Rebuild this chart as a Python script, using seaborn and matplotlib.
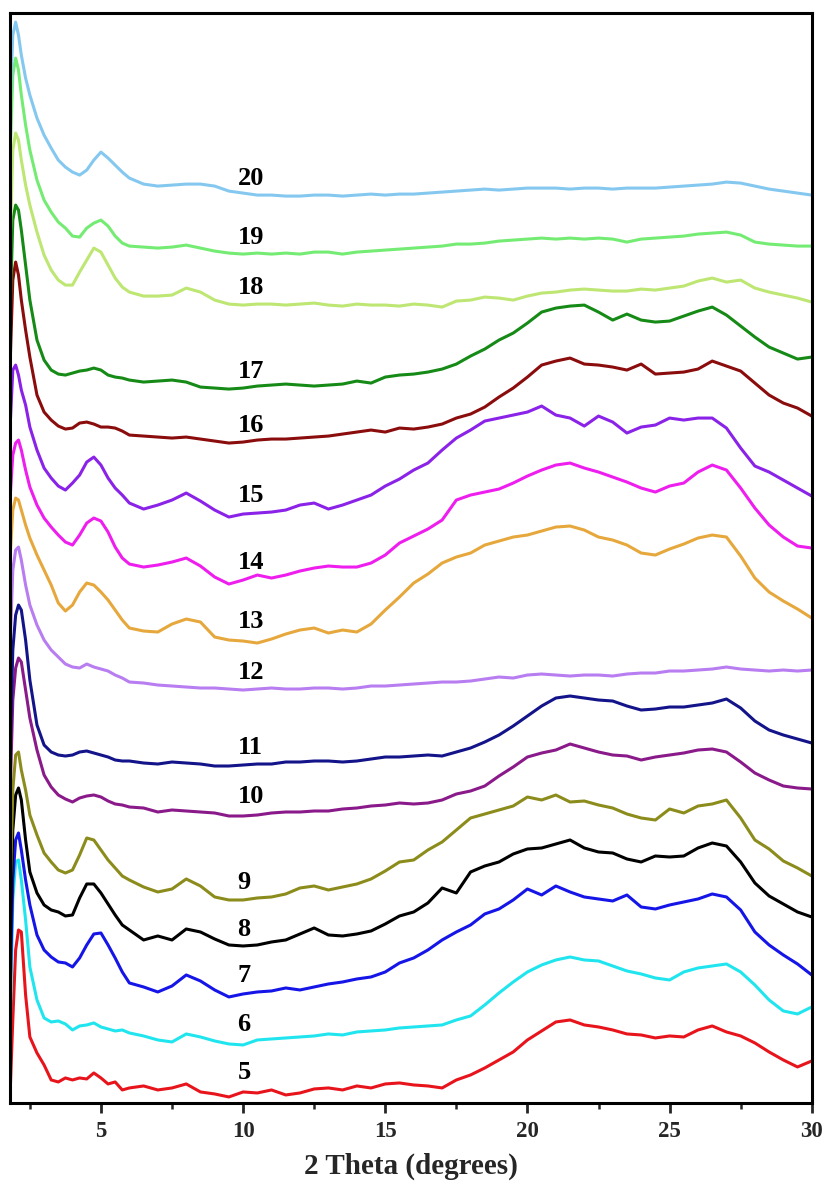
import numpy as np
import pandas as pd
import matplotlib
matplotlib.use("Agg")
import matplotlib.pyplot as plt
from matplotlib.ticker import MultipleLocator
import seaborn as sns

# ---- data: stacked XRD patterns (offset intensities, a.u.) ----
two_theta = [1.8, 1.9, 2.0, 2.1, 2.2, 2.35, 2.5, 2.75, 3.0, 3.25,
             3.5, 3.75, 4.0, 4.25, 4.5, 4.75, 5.0, 5.25, 5.5, 5.75,
             6.0, 6.5, 7.0, 7.5, 8.0, 8.5, 9.0, 9.5, 10.0, 10.5,
             11.0, 11.5, 12.0, 12.5, 13.0, 13.5, 14.0, 14.5, 15.0, 15.5,
             16.0, 16.5, 17.0, 17.5, 18.0, 18.5, 19.0, 19.5, 20.0, 20.5,
             21.0, 21.5, 22.0, 22.5, 23.0, 23.5, 24.0, 24.5, 25.0, 25.5,
             26.0, 26.5, 27.0, 27.5, 28.0, 28.5, 29.0, 29.5, 30.0]

i05 = [2, 80, 150, 170, 168, 105, 63, 47, 35, 20,
       18, 22, 20, 22, 21, 27, 22, 16, 18, 10,
       12, 14, 10, 12, 16, 8, 6, 3, 8, 7,
       10, 5, 7, 11, 12, 10, 14, 12, 16, 17,
       15, 14, 12, 20, 25, 32, 40, 48, 60, 69,
       78, 80, 75, 73, 70, 66, 65, 62, 64, 63,
       70, 74, 68, 64, 57, 48, 40, 33, 39]
i06 = [60, 200, 238, 240, 220, 180, 133, 100, 82, 78,
       79, 76, 70, 74, 75, 77, 73, 71, 69, 70,
       67, 64, 60, 58, 66, 63, 59, 56, 55, 60,
       61, 62, 63, 64, 66, 65, 68, 69, 70, 72,
       73, 74, 75, 80, 84, 95, 107, 118, 128, 135,
       140, 143, 140, 139, 134, 129, 126, 122, 120, 128,
       132, 134, 136, 128, 115, 100, 89, 86, 93]
i07 = [100, 220, 260, 267, 250, 220, 195, 165, 150, 143,
       138, 137, 133, 142, 155, 166, 167, 155, 142, 128,
       117, 113, 108, 114, 125, 119, 110, 103, 106, 108,
       109, 112, 110, 113, 116, 118, 121, 123, 128, 137,
       142, 150, 160, 168, 175, 186, 191, 200, 211, 205,
       214, 208, 203, 201, 199, 205, 193, 191, 195, 198,
       201, 206, 203, 190, 168, 155, 145, 136, 125]
i08 = [140, 270, 305, 312, 300, 260, 228, 207, 195, 190,
       188, 184, 185, 202, 216, 216, 207, 196, 185, 175,
       170, 160, 164, 160, 171, 168, 161, 155, 154, 155,
       158, 160, 166, 172, 165, 164, 166, 169, 176, 184,
       188, 197, 212, 207, 228, 234, 238, 246, 251, 252,
       256, 260, 252, 248, 247, 241, 238, 244, 243, 244,
       252, 257, 254, 238, 217, 204, 196, 188, 183]
i09 = [200, 310, 345, 348, 330, 310, 285, 265, 247, 238,
       230, 227, 230, 245, 262, 260, 250, 240, 232, 224,
       220, 213, 208, 211, 221, 214, 203, 200, 200, 202,
       203, 206, 212, 214, 210, 213, 216, 221, 229, 238,
       240, 250, 258, 270, 282, 286, 290, 294, 303, 300,
       305, 298, 299, 295, 292, 286, 282, 280, 291, 287,
       294, 296, 300, 282, 260, 251, 239, 232, 224]
i10 = [300, 400, 432, 442, 438, 410, 382, 350, 325, 313,
       305, 301, 298, 302, 304, 305, 303, 299, 296, 295,
       293, 292, 288, 290, 289, 288, 287, 284, 284, 285,
       287, 288, 288, 289, 289, 291, 292, 294, 295, 297,
       296, 297, 300, 306, 309, 314, 324, 333, 343, 347,
       350, 356, 352, 348, 345, 344, 340, 343, 345, 347,
       350, 351, 348, 338, 327, 320, 314, 312, 311]
i11 = [340, 450, 485, 495, 490, 460, 420, 375, 355, 348,
       345, 344, 345, 348, 349, 347, 345, 343, 340, 339,
       339, 337, 336, 338, 337, 336, 334, 334, 335, 336,
       336, 338, 338, 339, 339, 338, 339, 341, 343, 343,
       344, 345, 344, 348, 352, 358, 365, 374, 384, 394,
       402, 404, 402, 400, 399, 394, 390, 391, 393, 393,
       395, 397, 401, 392, 379, 370, 365, 361, 357]
i12 = [450, 530, 550, 553, 540, 515, 495, 475, 460, 450,
       443, 436, 433, 432, 436, 433, 431, 429, 425, 422,
       418, 417, 415, 414, 413, 412, 412, 411, 410, 411,
       412, 411, 411, 412, 412, 411, 412, 414, 414, 415,
       416, 417, 418, 418, 419, 421, 423, 422, 425, 426,
       425, 424, 425, 425, 424, 426, 427, 427, 429, 429,
       430, 431, 433, 431, 430, 429, 430, 429, 430]
i13 = [540, 590, 602, 600, 590, 575, 562, 545, 530, 515,
       497, 489, 495, 508, 517, 515, 508, 500, 490, 480,
       472, 469, 468, 476, 481, 478, 463, 460, 459, 457,
       461, 466, 470, 472, 467, 470, 468, 476, 490, 503,
       517, 526, 537, 543, 547, 555, 559, 563, 565, 569,
       573, 574, 570, 563, 560, 555, 547, 545, 551, 556,
       562, 565, 563, 544, 522, 508, 499, 491, 482]
i14 = [600, 645, 657, 660, 650, 630, 613, 595, 582, 573,
       565, 558, 555, 565, 577, 582, 579, 568, 553, 542,
       536, 533, 535, 538, 542, 534, 523, 516, 520, 525,
       522, 525, 529, 532, 534, 533, 533, 537, 545, 557,
       564, 571, 580, 600, 605, 608, 611, 617, 624, 630,
       635, 637, 632, 628, 623, 618, 612, 608, 614, 617,
       628, 635, 630, 612, 592, 575, 563, 554, 552]
i15 = [670, 730, 735, 725, 710, 695, 673, 650, 632, 622,
       614, 610, 617, 625, 638, 643, 635, 622, 612, 605,
       597, 591, 595, 600, 607, 599, 590, 583, 586, 587,
       588, 590, 595, 597, 591, 595, 600, 605, 614, 621,
       630, 637, 650, 662, 670, 679, 682, 685, 688, 694,
       685, 682, 674, 684, 678, 667, 673, 675, 682, 680,
       682, 682, 672, 652, 634, 628, 620, 612, 604]
i16 = [730, 820, 838, 825, 800, 770, 743, 705, 688, 680,
       674, 671, 672, 677, 678, 676, 673, 673, 672, 669,
       665, 664, 663, 662, 663, 661, 659, 657, 658, 660,
       661, 661, 662, 663, 664, 666, 668, 670, 668, 672,
       671, 673, 676, 682, 686, 693, 703, 712, 723, 735,
       739, 742, 736, 735, 733, 730, 736, 726, 727, 728,
       731, 739, 734, 729, 717, 705, 697, 692, 684]
i17 = [780, 880, 895, 890, 870, 835, 800, 760, 740, 730,
       726, 725, 727, 729, 730, 732, 730, 725, 723, 722,
       720, 718, 719, 720, 718, 713, 712, 711, 712, 714,
       715, 716, 715, 714, 715, 716, 719, 717, 723, 725,
       726, 728, 731, 736, 744, 751, 760, 767, 777, 788,
       792, 794, 795, 788, 780, 786, 780, 778, 779, 784,
       789, 793, 785, 774, 763, 753, 747, 741, 743]
i18 = [850, 950, 967, 960, 940, 915, 895, 868, 845, 830,
       820, 815, 815, 828, 840, 852, 848, 835, 822, 813,
       808, 804, 804, 805, 812, 808, 800, 796, 795, 796,
       796, 795, 796, 797, 795, 794, 796, 795, 795, 794,
       796, 795, 793, 799, 800, 803, 802, 800, 804, 807,
       808, 810, 811, 810, 809, 809, 811, 810, 812, 814,
       819, 822, 818, 820, 812, 808, 805, 802, 798]
i19 = [940, 1025, 1042, 1030, 1005, 975, 950, 920, 900, 888,
       878, 872, 864, 863, 872, 877, 880, 874, 864, 857,
       854, 853, 852, 853, 855, 852, 849, 847, 846, 847,
       846, 847, 846, 848, 848, 846, 848, 849, 850, 851,
       852, 853, 854, 856, 856, 857, 859, 860, 861, 862,
       861, 862, 861, 862, 861, 858, 861, 862, 863, 864,
       866, 867, 868, 865, 858, 856, 855, 854, 854]
i20 = [990, 1065, 1078, 1065, 1045, 1022, 1005, 982, 965, 952,
       940, 933, 928, 925, 930, 940, 948, 942, 935, 928,
       922, 916, 914, 915, 916, 916, 914, 909, 907, 905,
       905, 904, 904, 905, 905, 904, 905, 906, 905, 906,
       906, 907, 908, 909, 910, 911, 910, 911, 912, 912,
       912, 911, 912, 912, 911, 912, 912, 912, 913, 914,
       915, 916, 918, 917, 914, 911, 909, 907, 905]

sample_ids = ["5", "6", "7", "8", "9", "10", "11", "12",
              "13", "14", "15", "16", "17", "18", "19", "20"]
label_heights = [27, 75, 124, 170, 217, 304, 353, 428,
                 479, 538, 605, 675, 729, 813, 863, 922]
line_colors = ["#e8141c", "#20e5ee", "#1515e8", "#000000",
               "#8c8c1c", "#8a1a8a", "#14148a", "#b87df0",
               "#e6a83c", "#ee1eee", "#8a22e8", "#8a0c0c",
               "#168a16", "#bde672", "#74ec74", "#84c8f0"]
x_ticks = [5, 10, 15, 20, 25, 30]

patterns = [i05, i06, i07, i08, i09, i10, i11, i12,
            i13, i14, i15, i16, i17, i18, i19, i20]

frames = []
for sid, vals in zip(sample_ids, patterns):
    frames.append(pd.DataFrame({"two_theta": two_theta,
                                "intensity": vals,
                                "sample": sid}))
df = pd.concat(frames, ignore_index=True)

# ---- style ----
sns.set_theme(style="white")
plt.rcParams["font.family"] = ["Liberation Serif", "DejaVu Serif"]
plt.rcParams["font.weight"] = "bold"

fig = plt.figure(figsize=(8.30, 11.92), dpi=100)
ax = fig.add_axes([0.012, 0.0747, 0.966, 0.9143])

sns.lineplot(data=df, x="two_theta", y="intensity", hue="sample",
             hue_order=sample_ids, palette=line_colors,
             estimator=None, sort=False, linewidth=2.2,
             legend=False, ax=ax)

for sid, yh in zip(sample_ids, label_heights):
    ax.text(9.8, yh, sid, ha="left", va="center",
            fontsize=19, fontweight="bold", color="black")

ax.set_xlim(1.8, 30)
ax.set_ylim(-3, 1087)
ax.set_xticks(x_ticks)
ax.xaxis.set_minor_locator(MultipleLocator(2.5))
ax.set_yticks([])
ax.tick_params(axis="x", which="major", direction="out", length=7,
               width=2, labelsize=16.5, pad=6, bottom=True)
ax.tick_params(axis="x", which="minor", direction="out", length=4,
               width=1.8, bottom=True)
for lbl in ax.get_xticklabels():
    lbl.set_fontweight("bold")
ax.set_xlabel("2 Theta (degrees)", fontsize=21, fontweight="bold", labelpad=8)
ax.set_ylabel("")
for side in ["left", "right", "top", "bottom"]:
    ax.spines[side].set_visible(True)
    ax.spines[side].set_color("black")
    ax.spines[side].set_linewidth(2.2)

fig.savefig("out.png", dpi=100, facecolor="white")
